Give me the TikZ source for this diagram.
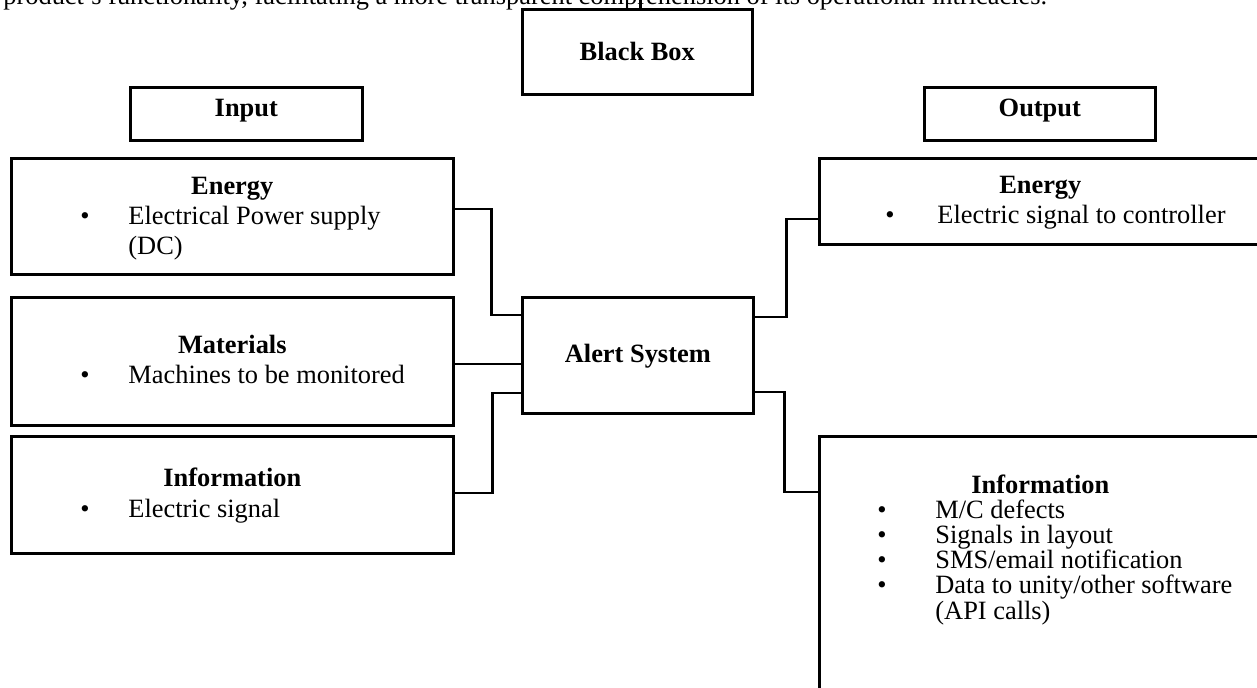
\documentclass[tikz,border=0pt]{standalone}
\usepackage{fontspec}
\setmainfont{Liberation Serif}
\usetikzlibrary{positioning, calc}
\tikzset{
    box/.style={draw, line width=1.3pt, inner sep=0pt, anchor=north west},
    head/.style={font=\fontsize{13.2}{16}\selectfont\bfseries, anchor=base, inner sep=0pt},
    item/.style={anchor=base west, inner sep=0pt},
    bul/.style={anchor=base, inner sep=0pt},
    wire/.style={line width=1.3pt},
}

\begin{document}
\begin{tikzpicture}[x=0.5pt, y=-0.5pt, font=\fontsize{13.2}{16}\selectfont]
    \clip (0,0) rectangle (1257,688);

    % last line of the page text, cut off at the top
    \node[item] (pagetext) at (3,5) {product's functionality, facilitating a more transparent comprehension of its operational intricacies.};

    % title boxes
    \node[box, minimum width=115pt, minimum height=42.5pt] (blackbox) at (521,8) {};
    \node[head] (blackboxtxt) at ($(blackbox.north)+(0,53)$) {Black Box};
    \coordinate (pageup) at ($(blackbox.north)+(3,-20)$);
    \draw[wire] ($(blackbox.north)+(3,0)$) -- (pageup);

    \node[box, minimum width=116pt, minimum height=26.5pt] (input) at (129,86) {};
    \node[head] (inputtxt) at ($(input.north)+(0,31)$) {Input};
    \node[box, minimum width=115.5pt, minimum height=26.5pt] (output) at (923,86) {};
    \node[head] (outputtxt) at ($(output.north)+(0,31)$) {Output};

    % the system
    \node[box, minimum width=115.5pt, minimum height=58pt] (alert) at (521,296) {};
    \node[head] (alerttxt) at ($(alert.north)+(0,67)$) {Alert System};

    % inputs
    \node[box, minimum width=221pt, minimum height=58pt] (inEnergy) at (10,157) {};
    \node[head] (inEnergyH) at ($(inEnergy.north)+(0,38)$) {Energy};
    \node[bul] (inEnergyB) at ($(inEnergy.north west)+(75,68)$) {\textbullet};
    \node[item] (inEnergyI) at ($(inEnergy.north west)+(118,68)$) {Electrical Power supply};
    \node[item] (inEnergyJ) at ($(inEnergy.north west)+(118,98)$) {(DC)};

    \node[box, minimum width=221pt, minimum height=64pt] (inMaterial) at (10,296) {};
    \node[head] (inMaterialH) at ($(inMaterial.north)+(0,58)$) {Materials};
    \node[bul] (inMaterialB) at ($(inMaterial.north west)+(75,88)$) {\textbullet};
    \node[item] (inMaterialI) at ($(inMaterial.north west)+(118,88)$) {Machines to be monitored};

    \node[box, minimum width=221pt, minimum height=58.5pt] (inInfo) at (10,435) {};
    \node[head] (inInfoH) at ($(inInfo.north)+(0,52)$) {Information};
    \node[bul] (inInfoB) at ($(inInfo.north west)+(75,83)$) {\textbullet};
    \node[item] (inInfoI) at ($(inInfo.north west)+(118,83)$) {Electric signal};

    % outputs
    \node[box, minimum width=221pt, minimum height=43pt] (outEnergy) at (818,157) {};
    \node[head] (outEnergyH) at ($(outEnergy.north)+(0,37)$) {Energy};
    \node[bul] (outEnergyB) at ($(outEnergy.north west)+(72,67)$) {\textbullet};
    \node[item] (outEnergyI) at ($(outEnergy.north west)+(119,67)$) {Electric signal to controller};

    \node[box, minimum width=221pt, minimum height=132.5pt] (outInfo) at (818,435) {};
    \node[head] (outInfoH) at ($(outInfo.north)+(0,59)$) {Information};
    \node[bul] (outInfoB1) at ($(outInfo.north west)+(64,84)$) {\textbullet};
    \node[item] (outInfoI1) at ($(outInfo.north west)+(117,84)$) {M/C defects};
    \node[bul] (outInfoB2) at ($(outInfo.north west)+(64,109)$) {\textbullet};
    \node[item] (outInfoI2) at ($(outInfo.north west)+(117,109)$) {Signals in layout};
    \node[bul] (outInfoB3) at ($(outInfo.north west)+(64,134)$) {\textbullet};
    \node[item] (outInfoI3) at ($(outInfo.north west)+(117,134)$) {SMS/email notification};
    \node[bul] (outInfoB4) at ($(outInfo.north west)+(64,159)$) {\textbullet};
    \node[item] (outInfoI4) at ($(outInfo.north west)+(117,159)$) {Data to unity/other software};
    \node[item] (outInfoI5) at ($(outInfo.north west)+(117,184)$) {(API calls)};

    % connectors
    \draw[wire] ($(inEnergy.north east)+(0,52)$) -- ++(37,0) |- ($(alert.north west)+(0,19)$);
    \draw[wire] ($(inMaterial.north east)+(0,68)$) -- ($(alert.north west)+(0,68)$);
    \draw[wire] ($(inInfo.north east)+(0,58)$) -- ++(38,0) |- ($(alert.north west)+(0,97)$);
    \draw[wire] ($(alert.north east)+(0,21)$) -- ++(32,0) |- ($(outEnergy.north west)+(2,62)$);
    \draw[wire] ($(alert.north east)+(0,96)$) -- ++(30,0) |- ($(outInfo.north west)+(2,57)$);
\end{tikzpicture}
\end{document}
